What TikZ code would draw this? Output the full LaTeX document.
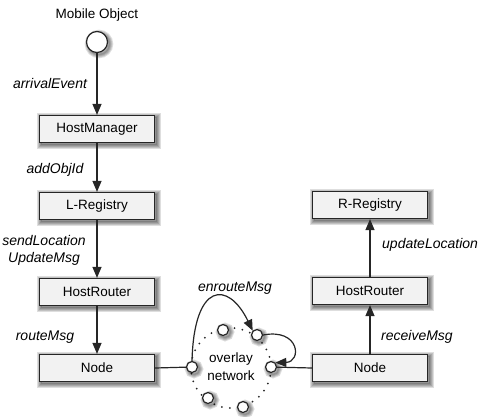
\documentclass[tikz,border=0pt]{standalone}
\usepackage{fontspec}
\setmainfont{Liberation Sans}
\usetikzlibrary{arrows.meta}
\begin{document}
\begin{tikzpicture}[x=1pt,y=-1pt,
  halo/.style={preaction={draw=black, fill=none, draw opacity=0.13, line width=#1,
    transform canvas={shift={(2pt,-2pt)}}}},
  fuzzy/.style={halo=1.5pt, halo=3.5pt, halo=5.5pt, halo=7.5pt, halo=9.5pt},
  box/.style={draw=black!85, line width=1.2pt, fill=gray!10, minimum width=115pt, minimum height=27pt,
    font=\fontsize{13.5}{15}\selectfont, fuzzy},
  arr/.style={-{Triangle[length=11pt,width=9pt]}, line width=1.2pt, draw=black!85, fill=black!75},
  conn/.style={line width=1.2pt, draw=black!85},
  pnode/.style={circle, draw=black!85, line width=1.2pt, fill=white, minimum size=11pt, inner sep=0pt,
    halo=1.5pt, halo=3.5pt, halo=5.5pt, halo=7.5pt},
  lbl/.style={font=\fontsize{14}{17}\selectfont\itshape, align=center, inner sep=0pt},
  txt/.style={font=\fontsize{13.5}{18}\selectfont, align=center, inner sep=0pt}]
\useasboundingbox (0,0) rectangle (484,417);
% left column
\node[txt] (motext) at (97,15) {Mobile Object};
\node[pnode, minimum size=21pt] (mo) at (97,42) {};
\node[box] (hm) at (97,129) {HostManager};
\node[box] (lr) at (97,206) {L-Registry};
\node[box] (hrl) at (97,292) {HostRouter};
\node[box] (nl) at (97,368) {Node};
% right column
\node[box] (rr) at (370,205) {R-Registry};
\node[box] (hrr) at (370,291) {HostRouter};
\node[box] (nr) at (370,368) {Node};
% overlay network
\coordinate (oc) at (231,368);
\draw[black!85, line width=2pt, line cap=round, dash pattern=on 0pt off 8pt] (oc) circle[radius=40];
\node[txt] (ovl) at (231,367) {overlay\\network};
\node[pnode] (p1) at (192,367) {};
\node[pnode] (p2) at (223,330) {};
\node[pnode] (p3) at (257,335) {};
\node[pnode] (p4) at (271,367) {};
\node[pnode] (p5) at (208,398) {};
\node[pnode] (p6) at (243,407) {};
% arrows
\draw[arr] (mo) -- (hm);
\draw[arr] (hm) -- (lr);
\draw[arr] (lr) -- (hrl);
\draw[arr] (hrl) -- (nl);
\draw[arr] (nr) -- (hrr);
\draw[arr] (hrr) -- (rr);
\draw[conn] (nl.east) -- (p1);
\draw[conn] (p4) -- (nr.west);
\draw[arr, fill=none] (p1.north) .. controls (194,282) and (228,280) .. (p3.north west);
\draw[arr, fill=none] (p3.east) .. controls (300,328) and (302,362) .. (p4.north east);
% labels
\node[lbl] (l1) at (50,83) {arrivalEvent};
\node[lbl] (l2) at (55,170) {addObjId};
\node[lbl] (l3) at (44,250) {sendLocation\\UpdateMsg};
\node[lbl] (l4) at (45,337) {routeMsg};
\node[lbl] (l5) at (235,288) {enrouteMsg};
\node[lbl, anchor=west] (l6) at (382,245) {updateLocation};
\node[lbl, anchor=west] (l7) at (381,337) {receiveMsg};
\end{tikzpicture}
\end{document}
